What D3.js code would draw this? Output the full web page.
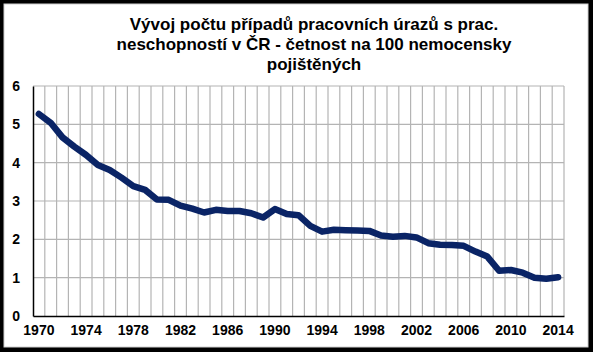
<!DOCTYPE html>
<html><head><meta charset="utf-8">
<script src="https://cdn.jsdelivr.net/npm/d3@7"></script>
<style>html,body{margin:0;padding:0;background:#fff;}svg{display:block;}</style>
</head><body>
<script>
const years = d3.range(1970, 2015);
const values = [5.27,5.04,4.66,4.42,4.20,3.94,3.81,3.61,3.39,3.29,3.04,3.03,2.88,2.80,2.70,2.77,2.74,2.74,2.68,2.57,2.79,2.66,2.63,2.35,2.20,2.25,2.24,2.23,2.22,2.10,2.07,2.09,2.05,1.90,1.86,1.85,1.83,1.68,1.55,1.18,1.20,1.13,1.00,0.97,1.01];
const yTicks = [0,1,2,3,4,5,6];
const xLabels = [1970,1974,1978,1982,1986,1990,1994,1998,2002,2006,2010,2014];
const titleLines = ["Vývoj počtu případů pracovních úrazů s prac.","neschopností v ČR - četnost na 100 nemocensky","pojištěných"];

const W=593,H=352;
const svg=d3.select("body").append("svg").attr("width",W).attr("height",H);
svg.append("rect").attr("x",0).attr("y",0).attr("width",W).attr("height",H).attr("fill","#000");
svg.append("rect").attr("x",4).attr("y",4).attr("width",584).attr("height",343).attr("fill","#fff").attr("stroke","#d0d0d0").attr("stroke-width",1);

const L=33,R=564,T=86,B=316;
const x=d3.scaleBand().domain(years).range([L,R]);
const y=d3.scaleLinear().domain([0,6]).range([B,T]);
const g=svg.append("g");
const bounds = years.map(d=>x(d)).concat([R]);
g.selectAll("line.v").data(bounds.slice(1)).enter().append("line")
 .attr("x1",d=>d).attr("x2",d=>d).attr("y1",T).attr("y2",B)
 .attr("stroke","#b4b4b4").attr("stroke-width",1.2);
g.selectAll("line.h").data(yTicks.slice(1)).enter().append("line")
 .attr("x1",L).attr("x2",R).attr("y1",d=>y(d)).attr("y2",d=>y(d))
 .attr("stroke","#b4b4b4").attr("stroke-width",1.2);
const yAxis=d3.axisLeft(y).tickValues(yTicks).tickFormat(d3.format("d")).tickSize(0).tickPadding(13);
const ya=svg.append("g").attr("transform",`translate(${L},0)`).call(yAxis);
ya.select(".domain").attr("stroke","#000").attr("stroke-width",1.5);
ya.selectAll("text").attr("font-family","Liberation Sans, Arial, sans-serif").attr("font-weight","bold").attr("font-size",14).attr("fill","#000");
const xAxis=d3.axisBottom(x).tickValues(xLabels).tickSize(0).tickPadding(9);
const xa=svg.append("g").attr("transform",`translate(0,${B})`).call(xAxis);
xa.select(".domain").attr("stroke","#000").attr("stroke-width",1.5);
xa.selectAll("text").attr("font-family","Liberation Sans, Arial, sans-serif").attr("font-weight","bold").attr("font-size",14).attr("fill","#000");

const line=d3.line().x((d,i)=>x(years[i])+x.bandwidth()/2).y(d=>y(d)).curve(d3.curveLinear);
svg.append("path").datum(values).attr("d",line).attr("fill","none")
 .attr("stroke","#0a2466").attr("stroke-width",6.5).attr("stroke-linejoin","round").attr("stroke-linecap","round");

const t=svg.append("text").attr("text-anchor","middle")
 .attr("font-family","Liberation Sans, Arial, sans-serif").attr("font-weight","bold").attr("font-size",17).attr("fill","#000");
titleLines.forEach((s,i)=>t.append("tspan").attr("x",314).attr("y",30+i*20).text(s));
</script>
</body></html>
